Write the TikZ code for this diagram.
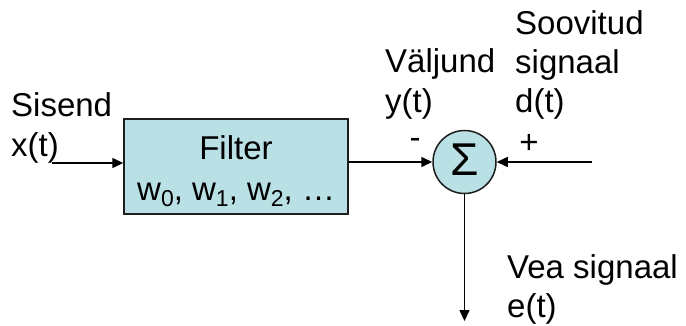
\documentclass[tikz,border=0pt]{standalone}
\usepackage{fontspec}
\setmainfont{Liberation Sans}
\usetikzlibrary{arrows.meta}
\definecolor{boxfill}{RGB}{185,224,228}
\definecolor{edge}{RGB}{30,30,30}
\newcommand{\wsub}[1]{\raisebox{-6pt}{\fontsize{23}{23}\selectfont #1}}
\tikzset{
  lbl/.style={anchor=base west,inner sep=0pt,font=\fontsize{33}{40}\selectfont},
  conn/.style={line width=1.5pt,-{Triangle[length=11pt,width=10pt]}},
  blockbox/.style={draw=edge,line width=1.5pt,fill=boxfill}
}
\begin{document}
\begin{tikzpicture}[x=1pt,y=-1pt]
\useasboundingbox (0,0) rectangle (686,325);
% filter block
\node[blockbox,minimum width=224pt,minimum height=95pt,inner sep=0pt] (filt) at (236,166.5) {};
\node[inner sep=0pt,anchor=base,font=\fontsize{33}{40}\selectfont] (ftitle) at (236,159) {Filter};
\node[lbl] (fw) at (137,200) {w\wsub{0}, w\wsub{1}, w\wsub{2}, …};
% sum
\node[blockbox,circle,minimum size=63pt,inner sep=0pt] (sum) at (464.5,162) {};
\node[inner sep=0pt,font=\fontsize{46}{46}\selectfont] (sig) at (464.5,160) {Σ};
% coordinates
\coordinate (xin) at (52,163);
\coordinate (din) at (592,162);
\coordinate (eout) at (464.5,321);
% connectors
\draw[conn] (xin) -- (filt.west |- xin);
\draw[conn] (filt.east |- sum.west) -- (sum.west);
\draw[conn] (din) -- (sum.east);
\draw[conn] (sum.south) -- (eout);
% labels
\node[lbl] (sisend) at (11,116) {Sisend};
\node[lbl] (xt) at (11,156) {x(t)};
\node[lbl] (valjund) at (385,72) {Väljund};
\node[lbl] (yt) at (385,112) {y(t)};
\node[lbl] (soov) at (515,34) {Soovitud};
\node[lbl] (signaal) at (515,73) {signaal};
\node[lbl] (dt) at (515,112) {d(t)};
\node[lbl] (vea) at (507,278) {Vea signaal};
\node[lbl] (et) at (507,317) {e(t)};
\node[inner sep=0pt,font=\fontsize{33}{40}\selectfont] (minus) at (415,143) {-};
\node[inner sep=0pt,font=\fontsize{33}{40}\selectfont] (plus) at (529,144) {+};
\end{tikzpicture}
\end{document}
